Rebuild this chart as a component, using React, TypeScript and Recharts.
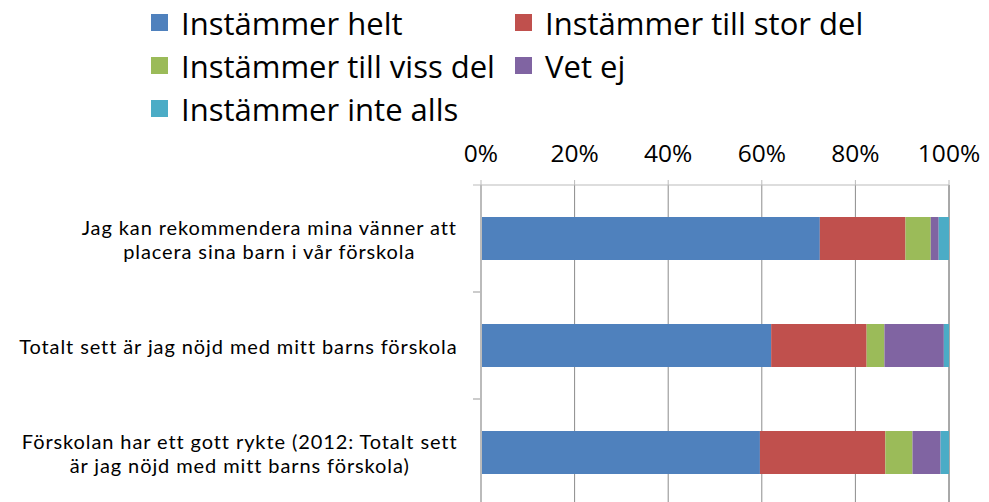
import React from 'react';
import {
  BarChart,
  Bar,
  XAxis,
  YAxis,
  CartesianGrid,
  Legend,
} from 'recharts';

// ----------------------------------------------------------------------------
// Data (in percent)
// ----------------------------------------------------------------------------

const CATEGORIES = [
  'Jag kan rekommendera mina vänner att\nplacera sina barn i vår förskola',
  'Totalt sett är jag nöjd med mitt barns förskola',
  'Förskolan har ett gott rykte (2012: Totalt sett\när jag nöjd med mitt barns förskola)',
];

const SERIES_NAMES = [
  'Instämmer helt',
  'Instämmer till stor del',
  'Instämmer till viss del',
  'Vet ej',
  'Instämmer inte alls',
];

const HELT = [72.4, 62.0, 59.6];
const STOR_DEL = [18.3, 20.4, 26.8];
const VISS_DEL = [5.4, 3.8, 5.8];
const VET_EJ = [1.7, 12.7, 6.0];
const INTE_ALLS = [2.2, 1.1, 1.8];

const X_TICKS = [0, 20, 40, 60, 80, 100];

const COLORS = ['#4F81BD', '#C0504D', '#9BBB59', '#8064A2', '#4BACC6'];

const SERIES_VALUES = [HELT, STOR_DEL, VISS_DEL, VET_EJ, INTE_ALLS];

const data = CATEGORIES.map((name, i) => {
  const row: Record<string, string | number> = { name };
  SERIES_NAMES.forEach((s, k) => {
    row[s] = SERIES_VALUES[k][i];
  });
  return row;
});

// ----------------------------------------------------------------------------
// Styling
// ----------------------------------------------------------------------------

const FONT = '"Open Sans", sans-serif';
const LABEL_FONT = 'Lato, sans-serif';
const LABEL_SIZE = 20;
const LABEL_SPACING = 0.9;
const LINE_HEIGHT = 24;

let measureCtx: CanvasRenderingContext2D | null = null;
function textWidth(s: string) {
  if (!measureCtx) {
    measureCtx = document.createElement('canvas').getContext('2d');
  }
  if (!measureCtx) return s.length * LABEL_SIZE * 0.5;
  measureCtx.font = `${LABEL_SIZE}px Lato`;
  return measureCtx.measureText(s).width + s.length * LABEL_SPACING;
}

// Category label: lines centered inside a right-aligned block, plus a tick
// mark at the boundary between categories (Excel style)
function CategoryTick(props: any) {
  const { x, y, payload } = props;
  const lines: string[] = String(payload.value).split('\n');
  const blockWidth = Math.max(...lines.map(textWidth));
  const cx = x - blockWidth / 2;
  const firstY = y - ((lines.length - 1) * LINE_HEIGHT) / 2;
  const half = payload.offset || 0;
  return (
    <g>
      <line x1={x + 16} x2={x + 24} y1={y - half} y2={y - half} stroke="#BBBBBB" />
      <line x1={x + 16} x2={x + 24} y1={y + half} y2={y + half} stroke="#BBBBBB" />
      <text
        x={cx}
        y={firstY}
        textAnchor="middle"
        dominantBaseline="central"
        fontFamily={LABEL_FONT}
        fontSize={LABEL_SIZE}
        letterSpacing={LABEL_SPACING}
        fill="#000"
      >
        {lines.map((l, i) => (
          <tspan key={i} x={cx} dy={i === 0 ? 0 : LINE_HEIGHT}>
            {l}
          </tspan>
        ))}
      </text>
    </g>
  );
}

function LegendContent() {
  return (
    <div
      style={{
        display: 'grid',
        gridTemplateColumns: '364px auto',
        gridAutoRows: '43px',
        height: 136,
        marginTop: -7,
        paddingLeft: 143,
        fontFamily: FONT,
        fontSize: 31,
        color: '#000',
        boxSizing: 'border-box',
      }}
    >
      {SERIES_NAMES.map((name, i) => (
        <div key={name} style={{ display: 'flex', alignItems: 'center', whiteSpace: 'nowrap' }}>
          <span
            style={{
              display: 'inline-block',
              width: 17,
              height: 17,
              background: COLORS[i],
              marginRight: 13,
              flex: 'none',
            }}
          />
          {name}
        </div>
      ))}
    </div>
  );
}

export default function App() {
  return (
    <BarChart
      width={981}
      height={510}
      data={data}
      layout="vertical"
      margin={{ top: 0, right: 40, bottom: 12, left: 0 }}
      barSize={43}
    >
      <Legend
        verticalAlign="top"
        align="left"
        content={() => <LegendContent />}
        wrapperStyle={{ left: 0, top: 0, width: 981, height: 136 }}
      />
      <CartesianGrid horizontal={false} stroke="#8C8C8C" />
      <XAxis
        type="number"
        orientation="top"
        domain={[0, 100]}
        ticks={X_TICKS}
        tickFormatter={(v) => `${v}%`}
        height={41}
        axisLine={{ stroke: '#BBBBBB' }}
        tickLine={{ stroke: '#BBBBBB' }}
        tickSize={5}
        tickMargin={18}
        tick={{ fontFamily: FONT, fontSize: 24.5, fill: '#000' }}
        interval={0}
      />
      <YAxis
        type="category"
        dataKey="name"
        width={473}
        axisLine={{ stroke: '#BBBBBB', strokeWidth: 2 }}
        tickLine={false}
        tickSize={8}
        tickMargin={16}
        tick={<CategoryTick />}
        interval={0}
      />
      {SERIES_NAMES.map((name, i) => (
        <Bar
          key={name}
          dataKey={name}
          stackId="a"
          fill={COLORS[i]}
          isAnimationActive={false}
        />
      ))}
    </BarChart>
  );
}
